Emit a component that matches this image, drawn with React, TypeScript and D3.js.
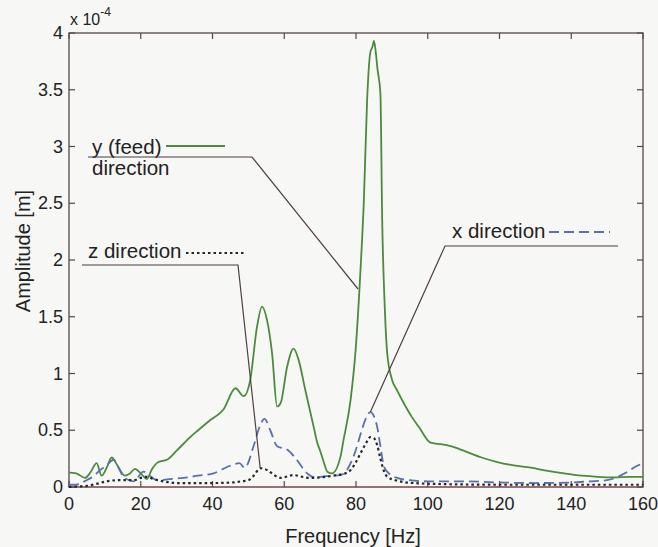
import * as d3 from 'd3'

const W = 658
const H = 547
const MARGIN = { top: 33, right: 15, bottom: 60, left: 69 }
const FONT = "'Liberation Sans', Arial, Helvetica, sans-serif"
const FRAME = '#544749'
const GREEN = '#4a8c3c'
const BLUE = '#5b6fae'
const DOT = '#262626'
const LEADER = '#4d3f3c'

// frequency [Hz] / amplitude [x 1e-4 m]
const yFreq = [0, 2, 4.5, 6, 7.7, 9.1, 10.5, 11.9, 13.5, 15.6, 17, 18.4, 20, 21.7, 23, 24.9, 27.3, 30, 33.8, 36, 39.4, 43, 46.4, 48.7, 50.5, 52.4, 53.8, 55.2, 56.6, 58, 59, 60.8, 62.6, 64, 65.9, 68.2, 69.2, 70, 71, 72, 73.3, 75.7, 76.5, 78.5, 79.9, 81.3, 82.2, 83.1, 84, 84.6, 85, 85.4, 86, 86.8, 87.3, 88, 88.7, 90, 91.5, 93.3, 95.5, 97.5, 100.8, 103, 106.4, 110, 115, 119.4, 124, 128.7, 133, 138, 143, 147.3, 152, 156, 160]
const yAmp = [0.126, 0.12, 0.08, 0.13, 0.21, 0.10, 0.17, 0.26, 0.19, 0.10, 0.12, 0.16, 0.12, 0.07, 0.15, 0.22, 0.24, 0.32, 0.44, 0.50, 0.59, 0.68, 0.87, 0.80, 0.94, 1.41, 1.59, 1.47, 1.18, 0.71, 0.74, 1.06, 1.22, 1.12, 0.85, 0.53, 0.39, 0.32, 0.22, 0.135, 0.12, 0.27, 0.41, 0.77, 1.21, 1.94, 2.53, 3.41, 3.83, 3.88, 3.93, 3.86, 3.68, 3.47, 2.35, 1.6, 1.18, 0.95, 0.85, 0.74, 0.62, 0.53, 0.39, 0.38, 0.36, 0.32, 0.26, 0.22, 0.19, 0.17, 0.145, 0.12, 0.10, 0.09, 0.085, 0.09, 0.09]

const xFreq = [0, 2, 4.9, 7, 8.7, 10.5, 12.4, 13.8, 15.2, 18, 20.8, 22.5, 24.5, 28, 31.9, 36, 40.3, 43, 46, 47.5, 49, 51.4, 53, 54.5, 56.1, 58, 60.8, 63, 66.4, 68, 70, 73, 75.7, 77, 78.5, 80, 81.3, 82.7, 84, 85.9, 86.8, 87.8, 89.5, 91.5, 95, 100, 110, 120, 130, 140, 145, 150, 153, 155.7, 158, 160]
const xAmp = [0.02, 0.02, 0.06, 0.10, 0.15, 0.19, 0.24, 0.17, 0.09, 0.05, 0.135, 0.10, 0.06, 0.07, 0.08, 0.10, 0.12, 0.16, 0.20, 0.21, 0.17, 0.355, 0.52, 0.60, 0.50, 0.36, 0.33, 0.26, 0.12, 0.09, 0.09, 0.10, 0.105, 0.13, 0.21, 0.33, 0.47, 0.60, 0.66, 0.53, 0.36, 0.18, 0.11, 0.08, 0.06, 0.05, 0.05, 0.04, 0.035, 0.04, 0.05, 0.06, 0.09, 0.135, 0.18, 0.21]

const zFreq = [0, 3, 5, 8, 10.5, 14, 18, 20, 21.7, 23.5, 26.3, 30, 35, 40, 45.8, 48, 50, 51.5, 53.3, 55.2, 57, 58.9, 62.6, 65, 67, 70, 71.6, 74.7, 77, 78.5, 80, 81.3, 82.7, 84, 85, 85.9, 86.8, 87.8, 88.7, 91, 96, 105, 120, 140, 160]
const zAmp = [0.0, 0.005, 0.01, 0.03, 0.05, 0.06, 0.06, 0.08, 0.09, 0.07, 0.05, 0.035, 0.035, 0.035, 0.04, 0.05, 0.06, 0.1, 0.165, 0.15, 0.11, 0.08, 0.105, 0.09, 0.08, 0.085, 0.09, 0.105, 0.12, 0.15, 0.22, 0.30, 0.38, 0.44, 0.43, 0.37, 0.25, 0.14, 0.09, 0.06, 0.035, 0.025, 0.02, 0.02, 0.02]

const xTicks = [0, 20, 40, 60, 80, 100, 120, 140, 160]
const yTicks = [0, 0.5, 1, 1.5, 2, 2.5, 3, 3.5, 4]

const zip = (f: number[], a: number[]) => f.map((v, i) => [v, a[i]] as [number, number])

export default function App() {
  const iw = W - MARGIN.left - MARGIN.right
  const ih = H - MARGIN.top - MARGIN.bottom
  const x = d3.scaleLinear().domain([0, 160]).range([MARGIN.left, MARGIN.left + iw])
  const y = d3.scaleLinear().domain([0, 4]).range([MARGIN.top + ih, MARGIN.top])

  const line = d3
    .line<[number, number]>()
    .x((d) => x(d[0]))
    .y((d) => y(d[1]))
    .curve(d3.curveMonotoneX)

  const x0 = MARGIN.left
  const x1 = MARGIN.left + iw
  const y0 = MARGIN.top + ih
  const y1 = MARGIN.top
  const tl = 6

  return (
    <div style={{ position: 'absolute', left: 0, top: 0 }}>
      <svg width={W} height={H} style={{ display: 'block', background: '#f7f7f5' }} fontFamily={FONT}>
        {/* frame */}
        <rect x={x0} y={y1} width={iw} height={ih} fill="none" stroke={FRAME} strokeWidth={1.3} />
        <line x1={x0} x2={x1} y1={y0} y2={y0} stroke="#9a6a6e" strokeWidth={1.5} />

        {/* ticks */}
        {xTicks.map((t) => (
          <g key={'xt' + t}>
            <line x1={x(t)} x2={x(t)} y1={y0} y2={y0 - tl} stroke={FRAME} strokeWidth={1.2} />
            <line x1={x(t)} x2={x(t)} y1={y1} y2={y1 + tl} stroke={FRAME} strokeWidth={1.2} />
            <text x={x(t)} y={y0 + 23} textAnchor="middle" fontSize={18} fill="#222">
              {t}
            </text>
          </g>
        ))}
        {yTicks.map((t) => (
          <g key={'yt' + t}>
            <line x1={x0} x2={x0 + tl} y1={y(t)} y2={y(t)} stroke={FRAME} strokeWidth={1.2} />
            <line x1={x1} x2={x1 - tl} y1={y(t)} y2={y(t)} stroke={FRAME} strokeWidth={1.2} />
            <text x={x0 - 6} y={y(t) + 6} textAnchor="end" fontSize={18} fill="#222">
              {t}
            </text>
          </g>
        ))}

        {/* exponent */}
        <text x={70} y={25} fontSize={16} fill="#222">
          x 10
          <tspan dy={-9} fontSize={12}>-4</tspan>
        </text>

        {/* axis labels */}
        <text x={353} y={543} textAnchor="middle" fontSize={20} fill="#222">
          Frequency [Hz]
        </text>
        <text transform={`translate(30,251) rotate(-90)`} textAnchor="middle" fontSize={20} fill="#222">
          Amplitude [m]
        </text>

        {/* series */}
        <path d={line(zip(yFreq, yAmp)) ?? ''} fill="none" stroke={GREEN} strokeWidth={1.8} />
        <path d={line(zip(xFreq, xAmp)) ?? ''} fill="none" stroke={BLUE} strokeWidth={1.8} strokeDasharray="10,5" />
        <path d={line(zip(zFreq, zAmp)) ?? ''} fill="none" stroke={DOT} strokeWidth={2.2} strokeDasharray="2.5,3" />

        {/* legend: y (feed) direction */}
        <text x={92} y={154} fontSize={20.5} fill="#222">y (feed)</text>
        <text x={92} y={175} fontSize={20.5} fill="#222">direction</text>
        <line x1={166} x2={225} y1={146} y2={146} stroke={GREEN} strokeWidth={1.8} />
        <polyline points="88,157 252,157 358,289" fill="none" stroke={LEADER} strokeWidth={1.2} />

        {/* legend: z direction */}
        <text x={88} y={258} fontSize={20.5} fill="#222">z direction</text>
        <line x1={186} x2={245} y1={253} y2={253} stroke={DOT} strokeWidth={2.2} strokeDasharray="2.5,3" />
        <polyline points={`82,265 238,265 ${x(53.3)},${y(0.165)}`} fill="none" stroke={LEADER} strokeWidth={1.2} />

        {/* legend: x direction */}
        <text x={452} y={238} fontSize={20.5} fill="#222">x direction</text>
        <line x1={549} x2={610} y1={232} y2={232} stroke={BLUE} strokeWidth={1.8} strokeDasharray="10,5" />
        <polyline points={`618,246 445,246 ${x(84)},${y(0.66)}`} fill="none" stroke={LEADER} strokeWidth={1.2} />
      </svg>
    </div>
  )
}
